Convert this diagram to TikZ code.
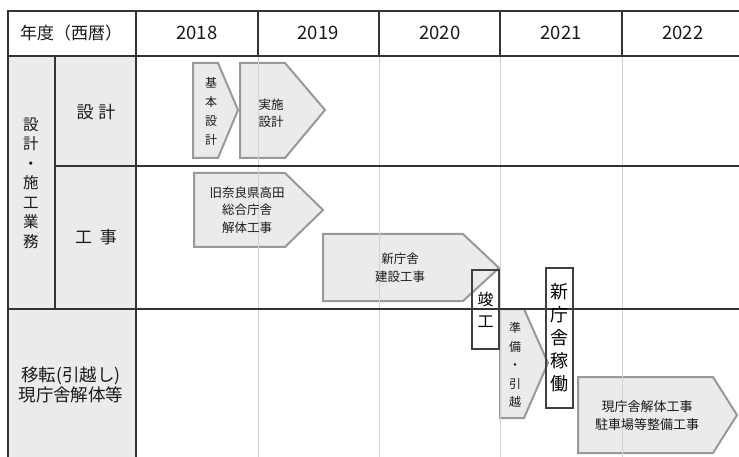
\documentclass[tikz,border=0pt]{standalone}
\usepackage{fontspec}
\setmainfont{Noto Sans CJK JP}
\begin{document}
\begin{tikzpicture}[x=1pt,y=-1pt,
		rule/.style={line width=1.7pt, black!80},
		faint/.style={line width=0.9pt, black!18},
		phase/.style={fill=black!8, draw=black!40, line width=2pt},
		phasetext/.style={font=\fontsize{12.5}{17.5}\selectfont, align=center, text=black!90, inner sep=0pt},
		milestone/.style={draw=black!75, line width=2.4pt, align=center, inner sep=0pt, font=\fontsize{18}{23}\selectfont},
		head/.style={font=\fontsize{17}{20}\selectfont, align=center, text=black!90}]
	\useasboundingbox (0,0) rectangle (739,457);
	% shaded heading column
	\fill[black!8] (8,56) rectangle (136,457);
	% phases
	\draw[phase] (193,63) -- (218,63) -- (238,110) -- (218,158) -- (193,158) -- cycle;
	\draw[phase] (240,63) -- (285,63) -- (325,110) -- (285,158) -- (240,158) -- cycle;
	\draw[phase] (194,173) -- (285,173) -- (323,210) -- (285,247) -- (194,247) -- cycle;
	\draw[phase] (323,234) -- (463,234) -- (499,268) -- (463,301) -- (323,301) -- cycle;
	\draw[phase] (500,309) -- (524,309) -- (548,363) -- (524,418) -- (500,418) -- cycle;
	\draw[phase] (578,377) -- (713,377) -- (737,415) -- (713,453) -- (578,453) -- cycle;
	% year columns
	\foreach \x in {258,379,500,622}
	{
		\draw[faint] (\x,56) -- (\x,457);
		\draw[rule] (\x,11) -- (\x,56);
	}
	\foreach \yr [count=\i] in {2018,...,2022}
	{
		\node[head, font=\fontsize{18.5}{20}\selectfont] (y\yr) at ({136+121.5*(\i-0.5)},33) {\yr};
	}
	% table rules
	\draw[rule] (739,11) -- (8,11) -- (8,457);
	\draw[rule] (8,56) -- (739,56);
	\draw[rule] (55,166) -- (739,166);
	\draw[rule] (8,309) -- (739,309);
	\draw[rule] (55,56) -- (55,309);
	\draw[rule] (136,11) -- (136,457);
	% row headings
	\node[head] (nendo) at (71,33) {年度（西暦）};
	\node[head, font=\fontsize{15.5}{19.5}\selectfont] (gyomu) at (31,183) {設\\計\\・\\施\\工\\業\\務};
	\node[head] (sekkei) at (96,112) {設\hspace{5pt}計};
	\node[head] (koji) at (96,237) {工\hspace{8pt}事};
	\node[head, font=\fontsize{17.5}{20}\selectfont] (iten) at (71,385) {移転(引越し)\\現庁舎解体等};
	% phase labels
	\node[phasetext, font=\fontsize{12}{19}\selectfont] (kihon) at (211,111) {基\\本\\設\\計};
	\node[phasetext, font=\fontsize{12.5}{16.5}\selectfont] (jisshi) at (271,113) {実施\\設計};
	\node[phasetext] (kaitai) at (247,210) {旧奈良県高田\\総合庁舎\\解体工事};
	\node[phasetext] (kensetsu) at (400,268) {新庁舎\\建設工事};
	\node[phasetext, font=\fontsize{12}{18.5}\selectfont] (junbi) at (515,365) {準\\備\\・\\引\\越};
	\node[phasetext, font=\fontsize{13}{18}\selectfont] (genchosha) at (647,416) {現庁舎解体工事\\駐車場等整備工事};
	% milestones
	\node[milestone, font=\fontsize{16}{22}\selectfont, minimum width=27pt, minimum height=79pt] (kanko) at (485.5,309.5) {竣\\工};
	\node[milestone, minimum width=27pt, minimum height=140pt] (kado) at (559.5,338) {新\\庁\\舎\\稼\\働};
\end{tikzpicture}
\end{document}
